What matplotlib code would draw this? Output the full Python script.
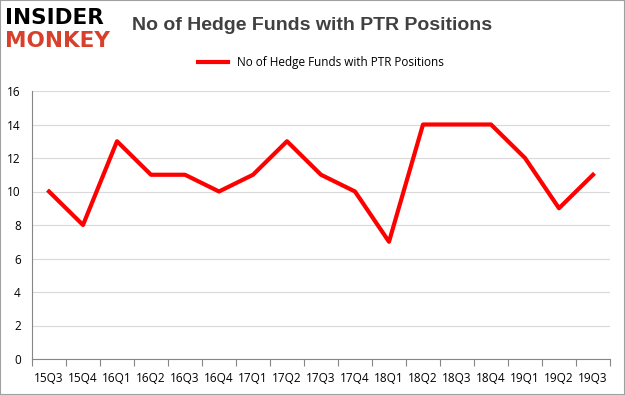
import matplotlib.pyplot as plt
import numpy as np

quarters = ["15Q3","15Q4","16Q1","16Q2","16Q3","16Q4","17Q1","17Q2","17Q3","17Q4",
            "18Q1","18Q2","18Q3","18Q4","19Q1","19Q2","19Q3"]
funds = [10, 8, 13, 11, 11, 10, 11, 13, 11, 10, 7, 14, 14, 14, 12, 9, 11]
yticks = [0, 2, 4, 6, 8, 10, 12, 14, 16]

plt.rcParams['font.family'] = ['Open Sans', 'DejaVu Sans']
fig = plt.figure(figsize=(6.25, 3.95), dpi=100)
fig.patch.set_facecolor('white')
ax = fig.add_axes([32/625, 36/395, 578/625, 268/395])

x = np.arange(len(quarters))
ax.plot(x, funds, color='#ff0000', lw=3, label='No of Hedge Funds with PTR Positions')
ax.set_xlim(-0.5, len(quarters) - 0.5)
ax.set_ylim(0, 16)
ax.set_yticks(yticks)
ax.set_xticks(np.arange(-0.5, len(quarters), 1), minor=False)
ax.set_xticklabels([])
ax.set_xticks(x, minor=True)
ax.set_xticklabels(quarters, minor=True)
ax.tick_params(axis='x', which='major', length=5, color='#868686')
ax.tick_params(axis='x', which='minor', length=0, labelsize=8.5, pad=9)
ax.tick_params(axis='y', length=0, labelsize=8.5, pad=8)
ax.grid(axis='y', color='#d9d9d9', lw=0.8)
ax.set_axisbelow(True)
for s in ['top', 'right']:
    ax.spines[s].set_visible(False)
ax.spines['left'].set_color('#868686')
ax.spines['bottom'].set_color('#868686')

fig.text(0.5, 0.935, 'No of Hedge Funds with PTR Positions', ha='center', va='center',
         fontsize=14, fontweight='bold', color='#404040', family=['Liberation Sans'])
ax.legend(loc='upper center', bbox_to_anchor=(0.5, 1.17), frameon=False, fontsize=8.5,
          handlelength=2.5)

fig.text(0.008, 0.955, 'INSIDER', fontsize=15.5, fontweight='heavy', color='black', va='center',
         family=['DejaVu Sans'])
fig.text(0.008, 0.895, 'MONKEY', fontsize=15.5, fontweight='heavy', color='#d9402b', va='center',
         family=['DejaVu Sans'])

fig.add_artist(plt.Rectangle((0, 0), 1, 1, transform=fig.transFigure, fill=False,
                             edgecolor='#a0a0a0', lw=1.5))
fig.savefig('out.png', dpi=100)
